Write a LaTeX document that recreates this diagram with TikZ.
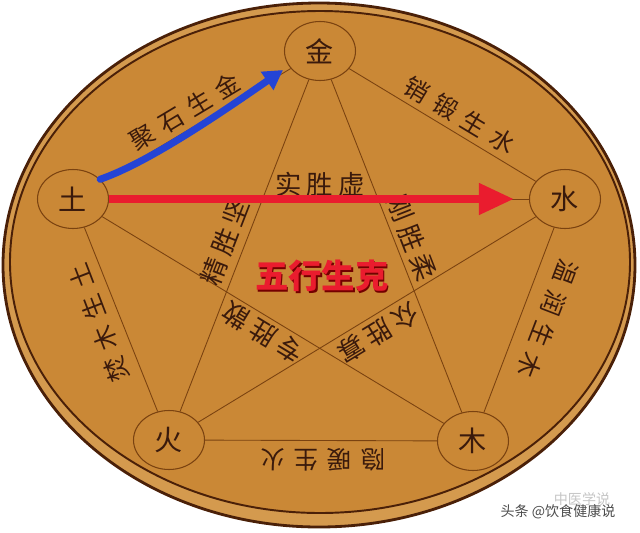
\documentclass[tikz,border=0pt]{standalone}
\usepackage{fontspec}
\newfontfamily\cjk{Noto Sans CJK SC}
\usetikzlibrary{shapes.geometric,arrows.meta}
\definecolor{coin}{HTML}{CA8836}
\definecolor{rim}{HTML}{D49A4E}
\definecolor{edge}{HTML}{4A2008}
\definecolor{wire}{HTML}{7A4210}
\definecolor{ink}{HTML}{3A1A0C}
\definecolor{arrowred}{HTML}{EA1C2E}
\definecolor{arrowblue}{HTML}{2444D6}
\newcommand{\ogap}{\hspace{0.35em}}
\newcommand{\igap}{\hspace{0.2em}}

\begin{document}
\begin{tikzpicture}[x=0.02cm, y=-0.02cm,
        element/.style={ellipse, draw=wire, line width=0.6pt, minimum width=1.42cm, minimum height=1.18cm, inner sep=0pt, text=ink, font=\cjk\fontsize{16}{16}\selectfont},
        link/.style={draw=wire, line width=0.5pt},
        outer/.style={text=ink, inner sep=0pt, font=\cjk\fontsize{14}{14}\selectfont},
        inner/.style={text=ink, inner sep=0pt, font=\cjk\fontsize{15}{15}\selectfont},
        title/.style={inner sep=0pt, font=\cjk\bfseries\fontsize{19}{19}\selectfont},
        watermark/.style={inner sep=0pt, font=\cjk\fontsize{8}{8}\selectfont},
    ]
    \useasboundingbox (0,0) rectangle (640,532);
    \fill[white] (0,0) rectangle (640,532);

    \filldraw[fill=rim, draw=edge, line width=1.6pt] (319,265) ellipse [x radius=316, y radius=262];
    \filldraw[fill=coin, draw=edge, line width=1.1pt] (320,262) ellipse [x radius=310, y radius=251];

    \node[element] (jin) at (320,51) {金};
    \node[element] (shui) at (565,199) {水};
    \node[element] (mu) at (473,441) {木};
    \node[element] (huo) at (169,440) {火};
    \node[element] (tu) at (73,199) {土};

    \draw[link] (tu) -- (jin) -- (shui) -- (mu) -- (huo) -- (tu);
    \draw[link] (tu) -- (shui);
    \draw[link] (tu) -- (mu);
    \draw[link] (jin) -- (huo);
    \draw[link] (jin) -- (mu);
    \draw[link] (shui) -- (huo);

    \node[outer, rotate=31] (jushi) at (185,112) {聚\ogap 石\ogap 生\ogap 金};
    \node[outer, rotate=-31] (xiaoduan) at (460,115) {销\ogap 锻\ogap 生\ogap 水};
    \node[outer, rotate=-111] (wenrun) at (548,319) {温\ogap 润\ogap 生\ogap 木};
    \node[outer, rotate=180] (yinnuan) at (323,460) {隐\ogap 暖\ogap 生\ogap 火};
    \node[outer, rotate=111] (fenmu) at (99,323) {焚\ogap 木\ogap 生\ogap 土};

    \node[inner] (shisheng) at (320,184) {实\igap 胜\igap 虚};
    \node[inner, rotate=-68.6] (gangsheng) at (412,238) {刚\igap 胜\igap 柔};
    \node[inner, rotate=68.8] (jingsheng) at (225,242) {精\igap 胜\igap 坚};
    \node[inner, rotate=148.8] (zhuansheng) at (263,333) {专\igap 胜\igap 散};
    \node[inner, rotate=211.3] (zhongsheng) at (378,333) {众\igap 胜\igap 寡};

    \node[title, text=red!45!black] (wuxingshadow) at (323.5,277.5) {五行生克};
    \node[title, text=arrowred] (wuxing) at (322,276) {五行生克};

    \coordinate (redtip) at (514,199);
    \coordinate (bluetip) at (283,70);
    \draw[arrowred, line width=4.5pt, -{Triangle[length=20pt,width=17pt]}] (tu) -- (redtip);
    \draw[arrowblue, line width=4pt, line cap=round, -{Triangle[length=11pt,width=12pt]}] (tu.36) .. controls (150,162) and (225,110) .. (bluetip);

    \node[watermark, text=gray!45] (markone) at (582,499) {中医学说};
    \node[watermark, text=black!70] (marktwo) at (558,512) {头条 @饮食健康说};
\end{tikzpicture}
\end{document}
